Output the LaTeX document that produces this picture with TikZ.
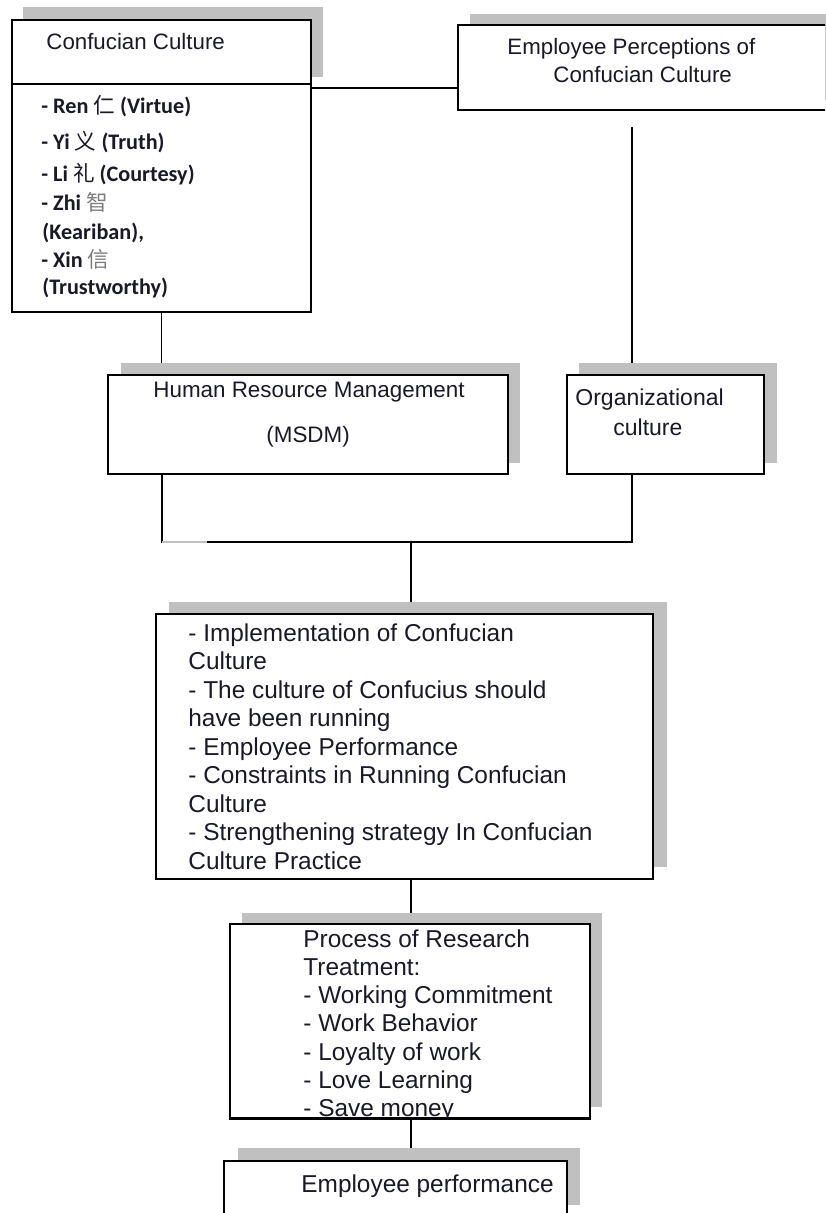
\documentclass[tikz,border=0pt]{standalone}
\usepackage{fontspec}
\setmainfont{Liberation Sans}
\newfontfamily\carl{Carlito}
\newfontfamily\cjk{Noto Sans CJK SC}
\usetikzlibrary{fit,calc}
\definecolor{shadowgray}{RGB}{192,192,192}
\definecolor{cjkgray}{RGB}{125,125,125}
\definecolor{inkdark}{RGB}{25,25,40}
\pgfdeclarelayer{connlayer}
\pgfdeclarelayer{shadlayer}
\pgfsetlayers{connlayer,shadlayer,main}
\newcommand{\hz}[2][inkdark]{{\cjk\mdseries\fontsize{10.8}{12}\selectfont\textcolor{#1}{#2}}}
\begin{document}
\begin{tikzpicture}[x=0.5pt,y=-0.5pt,
  box/.style={draw=black, line width=1.1pt, fill=white, inner sep=0pt},
  shadowbox/.style={fill=shadowgray, draw=none, inner sep=0pt},
  connector/.style={draw=black, line width=0.9pt},
  tbig/.style={anchor=base west, inner sep=0pt, text=inkdark, font=\fontsize{12.2}{14}\selectfont},
  thead/.style={anchor=base west, inner sep=0pt, text=inkdark, font=\fontsize{11.15}{13}\selectfont},
  tlist/.style={anchor=base west, inner sep=0pt, text=inkdark, font=\carl\bfseries\fontsize{11.1}{13}\selectfont},
]
\useasboundingbox (0,0) rectangle (825,1213);
\clip (0,0) rectangle (825,1213);

% ---------- shadows ----------
\begin{pgfonlayer}{shadlayer}
\node[shadowbox, fit={(23,7) (323,77)}] (ccs) {};
\node[shadowbox, fit={(470,14) (840,100)}] (eps) {};
\node[shadowbox, fit={(121,363) (520,463)}] (hrms) {};
\node[shadowbox, fit={(579,363) (777,463)}] (orgs) {};
\node[shadowbox, fit={(169,602) (667,867)}] (imps) {};
\node[shadowbox, fit={(242,913) (602,1107)}] (procs) {};
\node[shadowbox, fit={(238,1148) (580,1205)}] (emps) {};
\end{pgfonlayer}

% ---------- boxes ----------
\node[box, fit={(12,20) (311,312)}] (cc) {};
\draw[line width=1.1pt] (cc.west |- 0,84) -- (cc.east |- 0,84);
\node[box, fit={(458,25) (840,110)}] (ep) {};
\node[box, fit={(108,375) (508,474)}] (hrm) {};
\node[box, fit={(567,375) (764,474)}] (org) {};
\node[box, fit={(156,614) (653,879)}] (imp) {};
\node[box, fit={(230,924) (590,1118)}] (proc) {};
\node[box, fit={(224,1161) (567,1240)}] (emp) {};

% ---------- connectors ----------
\coordinate (jtop) at (0,88);
\coordinate (epl) at (632,127);
\coordinate (hb) at (162,542);
\coordinate (ob) at (632,542);
\coordinate (mid) at (411,542);
\begin{pgfonlayer}{connlayer}
\draw[connector] (cc.east |- jtop) -- (ep.west |- jtop);
\draw[connector] (cc.south) -- (cc.south |- hrm.north);
\draw[connector] (epl) -- (epl |- org.north);
\draw[connector] (hb |- hrm.south) -- (hb) -- (ob) -- (ob |- org.south);
\draw[connector] (mid) -- (mid |- imp.north);
\draw[connector] (mid |- imp.south) -- (mid |- proc.north);
\draw[connector] (mid |- proc.south) -- (mid |- emp.north);
\end{pgfonlayer}
\draw[shadowgray, line width=0.9pt] (hb) -- ++(45,0) coordinate (hbg);

% ---------- texts ----------
\node[thead] (cct) at (46,50) {Confucian Culture};
\node[tlist] (l1) at (41,114) {- Ren \hz{仁} (Virtue)};
\node[tlist] (l2) at (41,150) {- Yi \hz{义} (Truth)};
\node[tlist] (l3) at (41,182) {- Li \hz{礼} (Courtesy)};
\node[tlist] (l4) at (41,211) {- Zhi \hz[cjkgray]{智}};
\node[tlist] (l5) at (42,240) {(Keariban),};
\node[tlist] (l6) at (41,268) {- Xin \hz[cjkgray]{信}};
\node[tlist] (l7) at (42,295) {(Trustworthy)};

\node[thead] (ept1) at (507,55) {Employee Perceptions of};
\node[thead] (ept2) at (553,83) {Confucian Culture};

\node[anchor=base west, inner sep=0pt, text=inkdark, font=\fontsize{11.2}{13}\selectfont] (hrmt1) at (153,398) {Human Resource Management};
\node[anchor=base west, inner sep=0pt, text=inkdark, font=\fontsize{11.2}{13}\selectfont] (hrmt2) at (266,442) {(MSDM)};

\node[anchor=base west, inner sep=0pt, text=inkdark, font=\fontsize{11.5}{13}\selectfont] (orgt1) at (575,406) {Organizational};
\node[anchor=base west, inner sep=0pt, text=inkdark, font=\fontsize{11.5}{13}\selectfont] (orgt2) at (613,436) {culture};

\foreach \t [count=\i] in {{- Implementation of Confucian},{Culture},{- The culture of Confucius should},{have been running},{- Employee Performance},{- Constraints in Running Confucian},{Culture},{- Strengthening strategy In Confucian},{Culture Practice}}
  \node[tbig] (imp\i) at (188,{641+28.5*(\i-1)}) {\t};

\begin{scope}
\clip (proc.north west) rectangle (proc.south east);
\foreach \t [count=\i] in {{Process of Research},{Treatment:},{- Working Commitment},{- Work Behavior},{- Loyalty of work},{- Love Learning},{- Save money}}
  \node[tbig] (proc\i) at (303,{947+28.3*(\i-1)}) {\t};
\end{scope}
\draw[line width=1.1pt] (proc.south west) -- (proc.south east);

\node[tbig] (empt) at (301,1192) {Employee performance};
\end{tikzpicture}
\end{document}
